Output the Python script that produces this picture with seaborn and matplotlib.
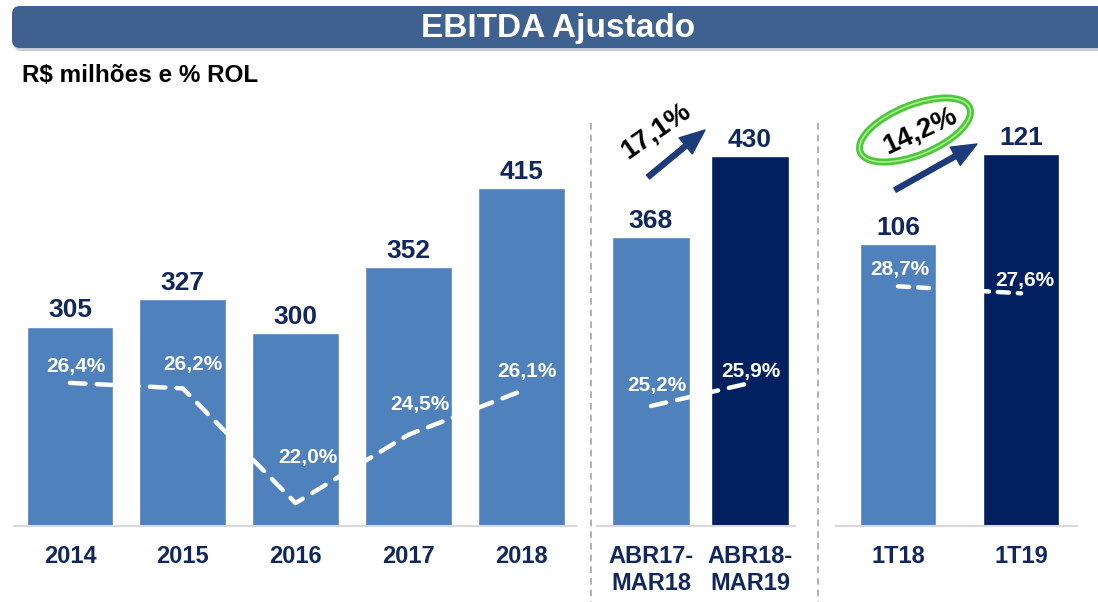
import numpy as np
import pandas as pd
import matplotlib
matplotlib.use("Agg")
import matplotlib.pyplot as plt
import seaborn as sns
from matplotlib.patches import FancyBboxPatch, Ellipse

# ============================================================
# DADOS
# ============================================================
anos = ["2014", "2015", "2016", "2017", "2018"]
ebitda_anos = [305, 327, 300, 352, 415]
margem_anos = [26.4, 26.2, 22.0, 24.5, 26.1]

ltm = ["ABR17-\nMAR18", "ABR18-\nMAR19"]
ebitda_ltm = [368, 430]
margem_ltm = [25.2, 25.9]
cresc_ltm = "17,1%"

tri = ["1T18", "1T19"]
ebitda_tri = [106, 121]
margem_tri = [28.7, 27.6]
cresc_tri = "14,2%"

# cores
AZUL = "#4f81bd"
AZUL_ESC = "#002060"
NAVY = "#10275e"
BANNER = "#3f6190"

sns.set_theme(style="white")
plt.rcParams["font.family"] = ["Liberation Sans", "DejaVu Sans"]

W, H = 1098, 602
fig = plt.figure(figsize=(W / 100, H / 100), dpi=100)

# ============================================================
# DECORAÇÃO (banner, separadores, setas)
# ============================================================
deco = fig.add_axes([0, 0, 1, 1])
deco.set_xlim(0, W)
deco.set_ylim(H, 0)
deco.axis("off")

deco.add_patch(FancyBboxPatch((14, 9), 1100, 42, boxstyle="round,pad=0,rounding_size=8",
                              fc="#c5ccd6", ec="none"))
deco.add_patch(FancyBboxPatch((12, 6), 1100, 42, boxstyle="round,pad=0,rounding_size=8",
                              fc=BANNER, ec="none"))
deco.text(558, 29, "EBITDA Ajustado", color="white", fontsize=24, fontweight="bold",
          ha="center", va="center")
deco.text(22, 75, "R$ milhões e % ROL", color="black", fontsize=17.5, fontweight="bold",
          ha="left", va="center")

deco.vlines([591, 818], 123, H, colors="#a6a6a6", linestyles=(0, (4, 3)), lw=1.2)


def pct(v):
    return f"{v:.1f}%".replace(".", ",")


def painel(px_left, px_width, cats, vals, pcts, cores, xlim, ylim, ylim_pct, bar_w, offs, dash):
    ax = fig.add_axes([px_left / W, 76 / H, px_width / W, 426 / H])
    ax.patch.set_alpha(0)
    df = pd.DataFrame({"cat": cats, "val": vals})
    sns.barplot(data=df, x="cat", y="val", hue="cat", palette=cores, width=bar_w,
                saturation=1, legend=False, ax=ax)
    for c in ax.containers:
        ax.bar_label(c, fmt="{:.0f}", padding=3, fontsize=19, fontweight="bold", color=NAVY)

    tw = ax.twinx()
    sns.lineplot(x=np.arange(len(pcts)), y=pcts, ax=tw, color="white", lw=3.2,
                 linestyle=dash, dash_capstyle="round")
    for i, p in enumerate(pcts):
        tw.annotate(pct(p), xy=(i, p), xytext=offs[i], textcoords="offset points",
                    ha="center", va="center", color="white", fontsize=15, fontweight="bold")
    tw.set_ylim(*ylim_pct)
    tw.axis("off")

    ax.set_ylim(*ylim)
    ax.set_xlim(*xlim)
    ax.set_xlabel("")
    ax.set_ylabel("")
    ax.set_yticks([])
    for s in ["top", "left", "right"]:
        ax.spines[s].set_visible(False)
    ax.spines["bottom"].set_color("#d9d9d9")
    ax.spines["bottom"].set_linewidth(1.5)
    ax.tick_params(axis="x", length=0, pad=14, labelsize=17, labelcolor=NAVY)
    for lbl in ax.get_xticklabels():
        lbl.set_fontweight("bold")
    return ax


painel(14, 562, anos, ebitda_anos, margem_anos, [AZUL] * 5,
       (-0.496, 4.486), (146.9, 484.7), (21.16, 36.76), 0.77,
       [(4, 12), (7, 17), (9, 33), (8, 22), (4, 14)], (0, (3.5, 2.5)))

painel(597, 198, ltm, ebitda_ltm, margem_ltm, [AZUL, AZUL_ESC],
       (-0.545, 1.455), (146.7, 472.9), (21.55, 34.51), 0.78,
       [(4, 15), (1, 8)], (0, (3.5, 2.5)))

painel(836, 241, tri, ebitda_tri, margem_tri, [AZUL, AZUL_ESC],
       (-0.504, 1.455), (59.0, 130.0), (-9.0, 58.0), 0.618,
       [(1, 12), (3, 9)], (0, (2.5, 2.0)))

# setas de crescimento
seta = dict(arrowstyle="simple,head_length=0.9,head_width=0.75,tail_width=0.18",
            color="#1d3a7a", mutation_scale=20, shrinkA=0, shrinkB=0)
deco.annotate("", xy=(705, 130), xytext=(648, 177), arrowprops=seta)
deco.annotate("", xy=(977, 144), xytext=(895, 190), arrowprops=seta)

deco.text(656, 131, cresc_ltm, rotation=35, fontsize=20, fontweight="bold",
          color="black", ha="center", va="center")

deco.add_patch(Ellipse((915, 130), 118, 50, angle=-22, fc="none", ec="#4cc73b", lw=5))
deco.add_patch(Ellipse((915, 130), 118, 50, angle=-22, fc="none", ec="#a8ef8c", lw=1.2))
deco.text(920, 131, cresc_tri, rotation=25, fontsize=20, fontweight="bold",
          color="black", ha="center", va="center")

fig.savefig("out.png", dpi=100)
